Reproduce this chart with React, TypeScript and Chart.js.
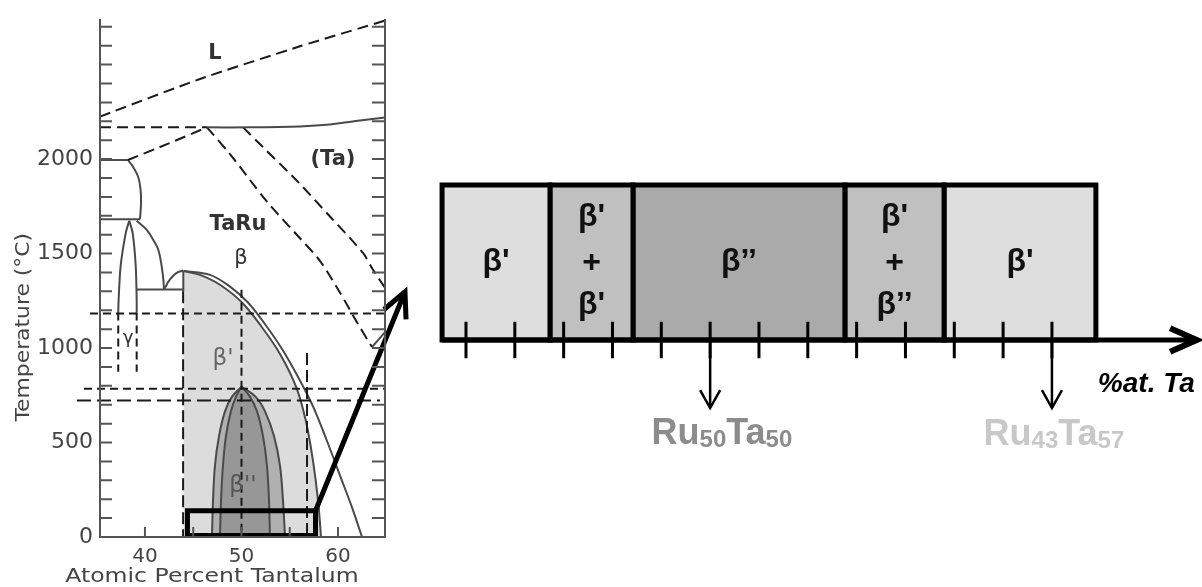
import React, { useEffect, useRef } from 'react';
import { Chart, registerables } from 'chart.js';

Chart.register(...registerables);

type Pt = [number, number];

/* ================= Left panel: Ru–Ta phase diagram (x: at.% Ta, y: °C) ================= */
const xMin = 35.34;
const xMax = 64.87;
const yMin = 0;
const yMax = 2735;
const xTickLabels = [40, 50, 60];
const yTickLabels = [0, 500, 1000, 1500, 2000];
const xMinorTicks = [40, 45, 50, 55, 60];
const yMinorTicks = [0, 100, 200, 300, 400, 500, 600, 700, 800, 900, 1000, 1100, 1200, 1300, 1400, 1500, 1600, 1700, 1800, 1900, 2000, 2100, 2200, 2300, 2400, 2500, 2600, 2700];

// dashed liquidus (L)
const liquidus: Pt[] = [[35.34, 2225], [45.7, 2424], [56.06, 2597], [64.87, 2733]];
// peritectic-level dashed line + solidus of (Ta)
const peritecticDashed: Pt[] = [[35.34, 2168], [46.42, 2168]];
const taSolidus: Pt[] = [[46.42, 2168], [50.88, 2168], [56.06, 2173], [59.17, 2183], [62.28, 2204], [64.87, 2220]];
const ruSideDashed: Pt[] = [[38.24, 1995], [42.28, 2079], [46.42, 2168]];
// Ru-rich side solid boundaries
const hcpTop: Pt[] = [[35.34, 1995], [38.24, 1995]];
const hcpBulge: Pt[] = [[38.24, 1995], [38.79, 1957], [39.31, 1904], [39.55, 1834], [39.59, 1764], [39.48, 1681]];
const hcpBottom: Pt[] = [[35.34, 1681], [39.48, 1681]];
const gammaLeft: Pt[] = [[38.37, 1674], [38.0, 1607], [37.48, 1435], [37.27, 1257], [37.23, 1188]];
const gammaRight: Pt[] = [[38.37, 1674], [38.73, 1607], [39.04, 1435], [39.14, 1257], [39.14, 1188]];
const gammaLeftDashed: Pt[] = [[37.23, 1188], [37.23, 874]];
const gammaRightDashed: Pt[] = [[39.14, 1188], [39.14, 874]];
const sigmaCurve: Pt[] = [[39.14, 1674], [40.18, 1625], [40.86, 1572], [41.38, 1520], [41.73, 1433], [41.9, 1363], [41.97, 1310]];
const eutectoidLine: Pt[] = [[39.14, 1310], [43.97, 1310]];
const hump: Pt[] = [[41.97, 1310], [42.59, 1363], [43.28, 1398], [43.97, 1410]];
const betaLeftEdge: Pt[] = [[43.97, 1410], [43.97, 1300]];
// beta' boundaries
const betaInner: Pt[] = [[44.04, 1408], [45.7, 1387], [47.77, 1335], [50.05, 1241], [52.12, 1110], [53.99, 969], [55.65, 796], [56.68, 613], [57.41, 403], [57.93, 194], [58.24, 0]];
const betaOuter: Pt[] = [[44.04, 1408], [46.74, 1387], [48.81, 1325], [50.67, 1241], [52.44, 1126], [54.2, 995], [55.85, 848], [57.41, 691], [58.86, 508], [60.21, 325], [61.45, 157], [62.49, 0]];
// beta'' lens
const lensL1: Pt[] = [[50.0, 796], [49.02, 743], [48.29, 665], [47.67, 534], [47.25, 377], [47.05, 194], [46.94, 0]];
const lensL2: Pt[] = [[50.0, 796], [49.43, 743], [48.91, 665], [48.39, 534], [48.08, 377], [47.88, 194], [47.77, 0]];
const lensR2: Pt[] = [[50.0, 796], [50.88, 743], [51.61, 665], [52.23, 534], [52.64, 377], [52.85, 194], [52.95, 0]];
const lensR1: Pt[] = [[50.0, 796], [51.45, 743], [52.44, 665], [53.37, 534], [53.99, 377], [54.3, 194], [54.51, 0]];
// Ta-side dashed curves
const innerDashed: Pt[] = [[46.42, 2168], [48.81, 2026], [52.64, 1775], [56.06, 1581], [58.13, 1461], [60.21, 1293], [61.97, 1136], [63.52, 1005]];
const innerTail: Pt[] = [[63.52, 1005], [64.87, 1084]];
const outerDashed: Pt[] = [[50.16, 2168], [52.23, 2063], [55.75, 1885], [59.17, 1696], [62.59, 1503], [63.63, 1414], [64.87, 1319]];
// reference dashed lines
const refH1: Pt[] = [[34.3, 1183], [64.87, 1183]];
const refH2: Pt[] = [[33.68, 785], [64.87, 785]];
const refH3: Pt[] = [[32.95, 722], [64.35, 722]];
const refV1: Pt[] = [[50.0, 1309], [50.0, 0]];
const refV2: Pt[] = [[43.95, 1300], [43.95, 0]];
const refV3: Pt[] = [[56.79, 974], [56.79, 0]];
// zoom box and arrow
const zoomBox: Pt[] = [[44.4, 8], [44.4, 139], [57.67, 139], [57.67, 8], [44.4, 8], [44.4, 139]];
const zoomArrow: Pt[] = [[57.67, 139], [66.94, 1298]];
const zoomArrowHead: Pt[] = [[67.05, 1152], [66.94, 1298], [64.77, 1204]];

const leftLabels = [
  { text: 'L', x: 47.25, y: 2560, font: 'bold 21px "DejaVu Sans"', color: '#333' },
  { text: '(Ta)', x: 59.48, y: 2000, font: 'bold 21px "DejaVu Sans"', color: '#333' },
  { text: 'TaRu', x: 49.64, y: 1654, font: 'bold 21px "DejaVu Sans"', color: '#333' },
  { text: 'β', x: 49.95, y: 1476, font: '21px "DejaVu Sans"', color: '#333' },
  { text: "β'", x: 48.08, y: 942, font: '23px "DejaVu Sans"', color: '#666' },
  { text: "β''", x: 50.16, y: 272, font: '23px "DejaVu Sans"', color: '#555' },
  { text: 'γ', x: 38.24, y: 1052, font: '18px "DejaVu Sans"', color: '#333' },
];

/* ================= Right panel: schematic along the %at. Ta axis ================= */
const sxMin = 44.263;
const sxMax = 60.073;
const syMin = -1.594;
const syMax = 2.194;
const boxEdges = [44.51, 46.72, 48.42, 52.76, 54.79, 57.9];
const boxFills = ['#dedede', '#c0c0c0', '#aaaaaa', '#c0c0c0', '#dedede'];
const boxLabels = [["β'"], ["β'", '+', "β'"], ['β’’'], ["β'", '+', 'β’’'], ["β'"]];
const schematicTicks = [45, 46, 47, 48, 49, 50, 51, 52, 53, 54, 55, 56, 57];
const axisArrow: Pt[] = [[44.51, 0], [59.97, 0]];
const axisArrowHead: Pt[] = [[59.42, 0.076], [59.97, 0], [59.42, -0.076]];
const compositionArrows = [50, 57];
const compositions = [
  { parts: [['Ru', 0], ['50', 1], ['Ta', 0], ['50', 1]] as [string, number][], x: 48.8, y: -0.67, color: '#8c8c8c' },
  { parts: [['Ru', 0], ['43', 1], ['Ta', 0], ['57', 1]] as [string, number][], x: 55.6, y: -0.68, color: '#c8c8c8' },
];

/* ================= helpers ================= */
const toXY = (a: Pt[]) => a.map(([x, y]) => ({ x, y }));

function lineDs(points: Pt[], color: string, width: number, o: any = {}) {
  return {
    data: toXY(points),
    borderColor: color,
    backgroundColor: color,
    borderWidth: width,
    borderDash: o.dash || [],
    tension: o.tension || 0,
    pointRadius: 0,
    pointHoverRadius: 0,
    fill: false,
    clip: false,
    order: o.order ?? 10,
    borderCapStyle: o.cap || 'butt',
    borderJoinStyle: o.join || 'miter',
    spanGaps: false,
  };
}

function shapeDs(points: Pt[], bg: string, order: number, border?: { color: string; width: number }) {
  return {
    data: toXY(points),
    backgroundColor: bg,
    fill: 'shape',
    borderColor: border ? border.color : bg,
    borderWidth: border ? border.width : 0,
    borderJoinStyle: 'miter',
    pointRadius: 0,
    pointHoverRadius: 0,
    tension: 0,
    clip: false,
    order,
  };
}

function drawText(ctx: CanvasRenderingContext2D, text: string, x: number, y: number, font: string, color: string, o: any = {}) {
  ctx.save();
  ctx.translate(x, y);
  if (o.rotate) ctx.rotate(o.rotate);
  if (o.stretch) ctx.scale(o.stretch, 1);
  ctx.font = font;
  ctx.fillStyle = color;
  ctx.textAlign = o.align || 'center';
  ctx.textBaseline = o.baseline || 'middle';
  ctx.fillText(text, 0, 0);
  ctx.restore();
}

function drawFormula(ctx: CanvasRenderingContext2D, parts: [string, number][], x: number, y: number, color: string) {
  ctx.save();
  let cx = x;
  ctx.fillStyle = color;
  ctx.textAlign = 'left';
  ctx.textBaseline = 'alphabetic';
  for (const [t, sub] of parts) {
    ctx.font = sub ? 'bold 24px "Liberation Sans"' : 'bold 36px "Liberation Sans"';
    ctx.fillText(t, cx, y + (sub ? 3 : 0));
    cx += ctx.measureText(t).width;
  }
  ctx.restore();
}

const LINE = '#4a4a4a';
const DASH = '#1a1a1a';
const AXIS = '#555';
const yTickFont = { family: '"DejaVu Sans", sans-serif', size: 22 };
const xTickFont = { family: '"DejaVu Sans", sans-serif', size: 20 };

function leftConfig(): any {
  const outerLens = [...lensL1].reverse().concat(lensR1.slice(1));
  const innerLens = [...lensL2].reverse().concat(lensR2.slice(1));
  const betaFill: Pt[] = [[43.97, 0], [43.97, 1408], ...betaInner];

  const decor = {
    id: 'leftDecor',
    afterDraw(chart: any) {
      const ctx: CanvasRenderingContext2D = chart.ctx;
      const xs = chart.scales.x;
      const ys = chart.scales.y;
      const a = chart.chartArea;
      ctx.save();
      ctx.strokeStyle = AXIS;
      ctx.lineWidth = 2;
      ctx.beginPath();
      for (const v of yMinorTicks) {
        const py = ys.getPixelForValue(v);
        ctx.moveTo(a.left, py);
        ctx.lineTo(a.left + 12, py);
        ctx.moveTo(a.right, py);
        ctx.lineTo(a.right - 13, py);
      }
      for (const v of xMinorTicks) {
        const px = xs.getPixelForValue(v);
        ctx.moveTo(px, a.bottom);
        ctx.lineTo(px, a.bottom - 10);
      }
      ctx.stroke();
      ctx.restore();
      for (const l of leftLabels) {
        drawText(ctx, l.text, xs.getPixelForValue(l.x), ys.getPixelForValue(l.y), l.font, l.color);
      }
      drawText(ctx, 'Temperature (°C)', xs.getPixelForValue(27.46), ys.getPixelForValue(1110), '19px "DejaVu Sans"', '#444', { rotate: -Math.PI / 2, stretch: 1.15 });
      drawText(ctx, 'Atomic Percent Tantalum', xs.getPixelForValue(46.94), ys.getPixelForValue(-214), '19px "DejaVu Sans"', '#444', { stretch: 1.24 });
    },
  };

  return {
    type: 'line',
    data: {
      datasets: [
        shapeDs(betaFill, '#dcdcdc', 30),
        shapeDs(outerLens, '#b0b0b0', 29),
        shapeDs(innerLens, '#979797', 28),
        lineDs(liquidus, DASH, 2, { dash: [11, 6], tension: 0.2 }),
        lineDs(peritecticDashed, DASH, 2, { dash: [11, 6] }),
        lineDs(taSolidus, LINE, 2, { tension: 0.3 }),
        lineDs(ruSideDashed, DASH, 2, { dash: [11, 6], tension: 0.2 }),
        lineDs(hcpTop, LINE, 2),
        lineDs(hcpBulge, LINE, 2, { tension: 0.4 }),
        lineDs(hcpBottom, LINE, 2),
        lineDs(gammaLeft, LINE, 2, { tension: 0.3 }),
        lineDs(gammaRight, LINE, 2, { tension: 0.3 }),
        lineDs(gammaLeftDashed, DASH, 2, { dash: [8, 5] }),
        lineDs(gammaRightDashed, DASH, 2, { dash: [8, 5] }),
        lineDs(sigmaCurve, LINE, 2, { tension: 0.4 }),
        lineDs(eutectoidLine, LINE, 2),
        lineDs(hump, LINE, 2, { tension: 0.4 }),
        lineDs(betaLeftEdge, LINE, 2),
        lineDs(betaInner, LINE, 2, { tension: 0.35 }),
        lineDs(betaOuter, LINE, 2, { tension: 0.35 }),
        lineDs(lensL1, LINE, 2, { tension: 0.35 }),
        lineDs(lensL2, LINE, 2, { tension: 0.35 }),
        lineDs(lensR2, LINE, 2, { tension: 0.35 }),
        lineDs(lensR1, LINE, 2, { tension: 0.35 }),
        lineDs(innerDashed, DASH, 2, { dash: [11, 6], tension: 0.3 }),
        lineDs(innerTail, LINE, 2),
        lineDs(outerDashed, DASH, 2, { dash: [11, 6], tension: 0.3 }),
        lineDs(refH1, DASH, 2, { dash: [8, 5], order: 5 }),
        lineDs(refH2, DASH, 2, { dash: [8, 5], order: 5 }),
        lineDs(refH3, DASH, 2, { dash: [14, 6], order: 5 }),
        lineDs(refV1, DASH, 2, { dash: [8, 5], order: 5 }),
        lineDs(refV2, DASH, 2, { dash: [12, 5], order: 5 }),
        lineDs(refV3, DASH, 2, { dash: [12, 5], order: 5 }),
        lineDs(zoomBox, '#000', 5, { order: 2 }),
        lineDs(zoomArrow, '#000', 5, { order: 1 }),
        lineDs(zoomArrowHead, '#000', 5, { order: 1, join: 'miter' }),
      ],
    },
    options: {
      animation: false,
      responsive: false,
      events: [],
      layout: { padding: { left: 0, right: 45, top: 15, bottom: 0 }, autoPadding: false },
      plugins: { legend: { display: false }, tooltip: { enabled: false } },
      scales: {
        x: {
          type: 'linear', min: xMin, max: xMax, position: 'bottom',
          grid: { display: false, drawTicks: false },
          border: { display: true, color: AXIS, width: 2, z: 2 },
          ticks: { color: '#444', font: xTickFont, padding: 8, maxRotation: 0, autoSkip: false },
          afterBuildTicks: (s: any) => { s.ticks = xTickLabels.map((v) => ({ value: v })); },
          afterFit: (s: any) => { s.height = 50; },
        },
        y: {
          type: 'linear', min: yMin, max: yMax, position: 'left',
          grid: { display: false, drawTicks: false },
          border: { display: true, color: AXIS, width: 2, z: 2 },
          ticks: { color: '#444', font: yTickFont, padding: 7, callback: (v: any) => String(v) },
          afterBuildTicks: (s: any) => { s.ticks = yTickLabels.map((v) => ({ value: v })); },
          afterFit: (s: any) => { s.width = 100; },
        },
        y2: {
          type: 'linear', min: yMin, max: yMax, position: 'right',
          grid: { display: false, drawTicks: false },
          border: { display: true, color: AXIS, width: 2, z: 2 },
          ticks: { display: false },
          afterFit: (s: any) => { s.width = 0; },
        },
      },
    },
    plugins: [decor],
  };
}

function rightConfig(): any {
  const datasets: any[] = [];
  for (let i = 0; i < boxFills.length; i++) {
    const a = boxEdges[i];
    const b = boxEdges[i + 1];
    datasets.push(shapeDs([[a, 0], [a, 1], [b, 1], [b, 0], [a, 0], [a, 1]], boxFills[i], 10, { color: '#000', width: 5 }));
  }
  datasets.push(lineDs(axisArrow, '#000', 5, { order: 5 }));
  datasets.push(lineDs(axisArrowHead, '#000', 6, { order: 5 }));
  const tickPts: any[] = [];
  for (const t of schematicTicks) {
    tickPts.push([t, 0.118], [t, -0.118], [t, null]);
  }
  datasets.push(lineDs(tickPts as Pt[], '#000', 3, { order: 3 }));
  for (const c of compositionArrows) {
    datasets.push(lineDs([[c, 0], [c, -0.439]], '#000', 2.5, { order: 3 }));
    datasets.push(lineDs([[c + 0.205, -0.323], [c, -0.439], [c - 0.205, -0.323]], '#000', 2.5, { order: 3 }));
  }

  const decor = {
    id: 'rightDecor',
    afterDraw(chart: any) {
      const ctx: CanvasRenderingContext2D = chart.ctx;
      const xs = chart.scales.x;
      const ys = chart.scales.y;
      const font = 'bold 32px "Liberation Sans"';
      boxLabels.forEach((lines, i) => {
        const cx = xs.getPixelForValue((boxEdges[i] + boxEdges[i + 1]) / 2);
        const rows = lines.length === 1 ? [0.5] : [0.794, 0.497, 0.226];
        lines.forEach((t, j) => drawText(ctx, t, cx, ys.getPixelForValue(rows[j]), font, '#111'));
      });
      for (const c of compositions) {
        drawFormula(ctx, c.parts, xs.getPixelForValue(c.x), ys.getPixelForValue(c.y), c.color);
      }
      drawText(ctx, '%at. Ta', xs.getPixelForValue(57.94), ys.getPixelForValue(-0.335), 'italic bold 28px "Liberation Sans"', '#000', { align: 'left', baseline: 'alphabetic' });
    },
  };

  return {
    type: 'line',
    data: { datasets },
    options: {
      animation: false,
      responsive: false,
      events: [],
      layout: { padding: 0, autoPadding: false },
      plugins: { legend: { display: false }, tooltip: { enabled: false } },
      scales: {
        x: { type: 'linear', min: sxMin, max: sxMax, display: false },
        y: { type: 'linear', min: syMin, max: syMax, display: false },
      },
    },
    plugins: [decor],
  };
}

export default function App() {
  const leftRef = useRef<HTMLCanvasElement>(null);
  const rightRef = useRef<HTMLCanvasElement>(null);
  useEffect(() => {
    const left = new Chart(leftRef.current as HTMLCanvasElement, leftConfig());
    const right = new Chart(rightRef.current as HTMLCanvasElement, rightConfig());
    return () => {
      left.destroy();
      right.destroy();
    };
  }, []);
  return (
    <div style={{ position: 'fixed', left: 0, top: 0, width: 1202, height: 587, background: '#fff', overflow: 'hidden' }}>
      <canvas ref={leftRef} width={430} height={587} style={{ position: 'absolute', left: 0, top: 0 }} />
      <canvas ref={rightRef} width={772} height={587} style={{ position: 'absolute', left: 430, top: 0 }} />
    </div>
  );
}
